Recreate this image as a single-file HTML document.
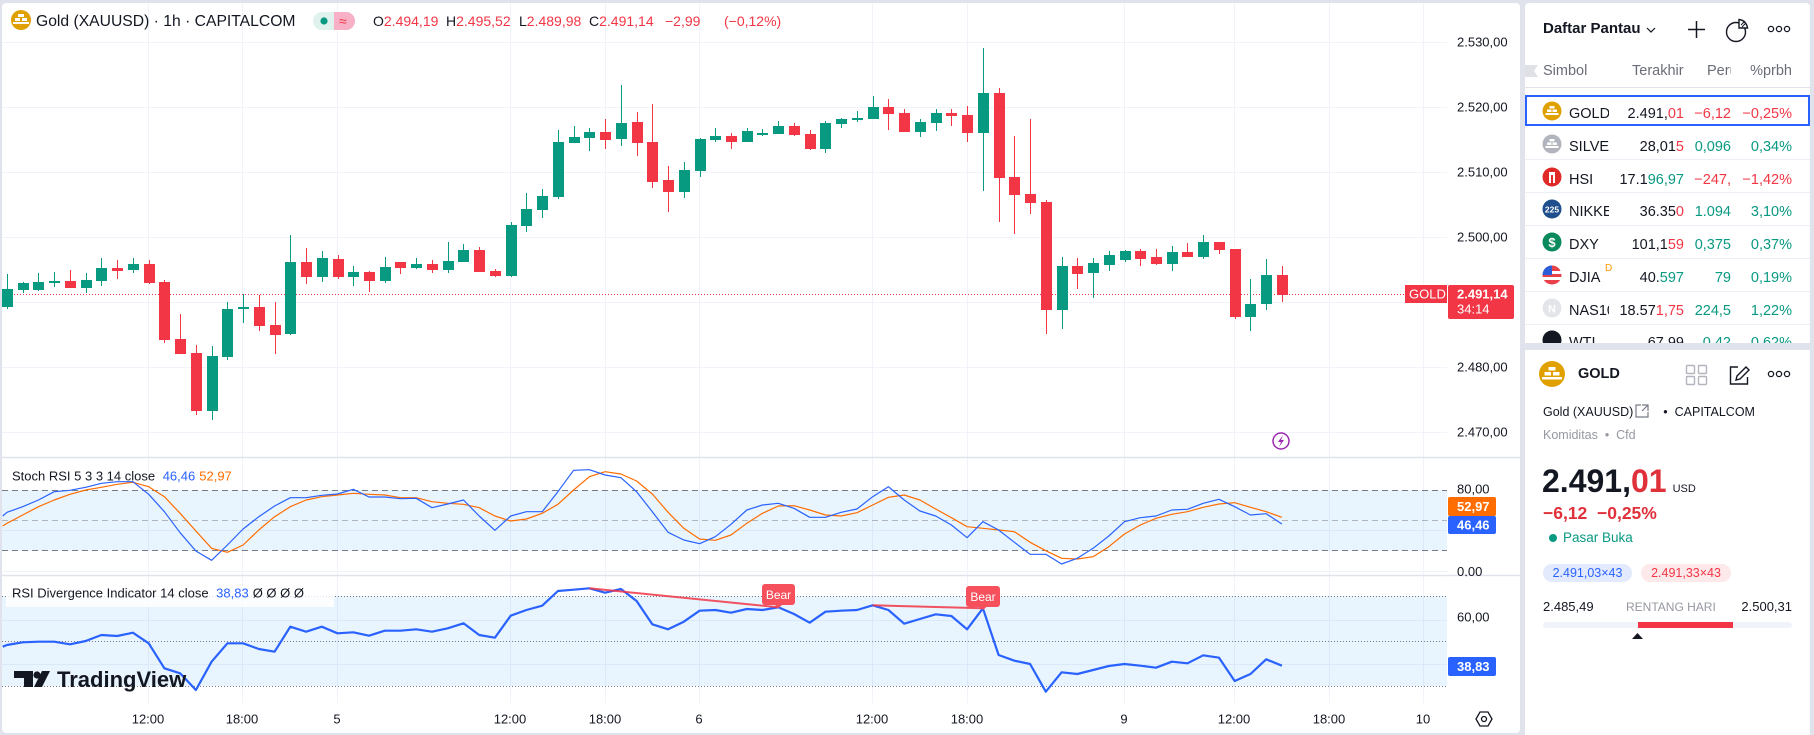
<!DOCTYPE html>
<html><head><meta charset="utf-8">
<style>
*{margin:0;padding:0;box-sizing:border-box}
body{width:1814px;height:735px;background:#e0e3eb;font-family:"Liberation Sans",sans-serif;color:#131722;position:relative;overflow:hidden}
.a{position:absolute;white-space:nowrap}
.r{position:absolute;left:0;width:285px;height:33px}
.r>span{position:absolute;top:6px;line-height:20px;font-size:14.5px;white-space:nowrap}
.nm{left:44px;width:40px;overflow:hidden}
.lp{right:126px}.ch{right:79px}.pc{right:18px}
.g{color:#089981}.rd{color:#f23645}
.sep{position:absolute;left:0;width:285px;height:1px;background:#eceff5}
</style></head><body>
<svg class="a" style="left:0;top:0" width="1520" height="735" viewBox="0 0 1520 735" font-family="Liberation Sans, sans-serif">
<rect x="2" y="3" width="1518" height="730" rx="4" fill="#fff"/>
<g stroke="#f0f3fa" stroke-width="1" fill="none">
<path d="M2 42.5H1447M2 107.5H1447M2 172.5H1447M2 237.5H1447M2 302.5H1447M2 367.5H1447M2 432.5H1447"/>
<path d="M2 530.5H1447M2 571.5H1447M2 620.5H1447M2 664.5H1447"/>
<path d="M148.5 3V703M242.5 3V703M337.5 3V703M510.5 3V703M605.5 3V703M699.5 3V703M872.5 3V703M967.5 3V703M1124.5 3V703M1234.5 3V703M1329.5 3V703M1423.5 3V703"/>
</g>
<path d="M2 457.5H1520M2 575.5H1520" stroke="#e0e3eb" stroke-width="1.5"/>
<circle cx="21" cy="20" r="10" fill="#e0a100"/>
<g fill="#fff"><rect x="18" y="14" width="6" height="3"/><rect x="15" y="18" width="5" height="3"/><rect x="22" y="18" width="5" height="3"/><rect x="13" y="22" width="16" height="2"/></g>
<text x="36" y="26" font-size="15.7" fill="#131722">Gold (XAUUSD) · 1h · CAPITALCOM</text>
<rect x="313" y="12" width="42" height="18" rx="9" fill="#dff2ee"/>
<path d="M334 12h12a9 9 0 0 1 0 18h-12z" fill="#f7b0c5"/>
<circle cx="324" cy="21" r="3.6" fill="#089981"/>
<text x="339" y="26" font-size="14" fill="#f23645">≈</text>
<g font-size="14" fill="#f23645">
<text x="373" y="26"><tspan fill="#131722">O</tspan>2.494,19</text>
<text x="446" y="26"><tspan fill="#131722">H</tspan>2.495,52</text>
<text x="519" y="26"><tspan fill="#131722">L</tspan>2.489,98</text>
<text x="589" y="26"><tspan fill="#131722">C</tspan>2.491,14</text>
<text x="665" y="26">−2,99</text>
<text x="724" y="26">(−0,12%)</text>
</g>
<path d="M2 294.5H1405" stroke="#f23645" stroke-width="1" stroke-dasharray="1 2"/>
<path fill="#089981" d="M2 289h11v18h-11zM7 274h1v35h-1zM18 283h11v7h-11zM23 282h1v11h-1zM33 282h11v8h-11zM38 273h1v18h-1zM49 281h11v2h-11zM54 272h1v15h-1zM81 280h11v8h-11zM86 273h1v20h-1zM96 268h11v13h-11zM101 258h1v28h-1zM128 264h11v6h-11zM133 258h1v15h-1zM207 356h11v55h-11zM212 346h1v74h-1zM222 309h11v48h-11zM227 302h1v58h-1zM238 307h11v2h-11zM243 294h1v29h-1zM285 262h11v72h-11zM290 235h1v100h-1zM317 258h11v19h-11zM322 251h1v31h-1zM348 272h11v5h-11zM353 266h1v20h-1zM380 267h11v14h-11zM385 257h1v26h-1zM411 264h11v4h-11zM416 258h1v11h-1zM443 261h11v9h-11zM448 242h1v31h-1zM458 250h11v12h-11zM463 244h1v18h-1zM506 225h11v51h-11zM511 222h1v55h-1zM521 209h11v17h-11zM526 193h1v39h-1zM537 196h11v14h-11zM542 189h1v29h-1zM553 142h11v55h-11zM558 130h1v69h-1zM569 137h11v6h-11zM574 126h1v17h-1zM584 132h11v6h-11zM589 128h1v23h-1zM616 123h11v16h-11zM621 85h1v61h-1zM679 170h11v22h-11zM684 162h1v36h-1zM695 139h11v32h-11zM700 138h1v39h-1zM710 136h11v4h-11zM715 128h1v14h-1zM742 131h11v11h-11zM747 128h1v14h-1zM757 133h11v2h-11zM762 129h1v7h-1zM773 126h11v8h-11zM778 121h1v13h-1zM820 123h11v26h-11zM825 121h1v32h-1zM836 119h11v5h-11zM841 118h1v10h-1zM852 118h11v2h-11zM857 111h1v11h-1zM868 107h11v12h-11zM873 96h1v23h-1zM915 122h11v10h-11zM920 119h1v18h-1zM931 113h11v10h-11zM936 109h1v22h-1zM978 93h11v40h-11zM983 48h1v143h-1zM1057 266h11v44h-11zM1062 257h1v72h-1zM1088 263h11v10h-11zM1093 258h1v40h-1zM1104 255h11v10h-11zM1109 251h1v20h-1zM1120 251h11v9h-11zM1125 250h1v12h-1zM1167 252h11v12h-11zM1172 246h1v25h-1zM1198 242h11v15h-11zM1203 235h1v24h-1zM1245 304h11v13h-11zM1250 279h1v52h-1zM1261 275h11v29h-11zM1266 259h1v51h-1z"/>
<path fill="#f23645" d="M65 281h11v7h-11zM70 270h1v18h-1zM112 268h11v3h-11zM117 260h1v19h-1zM144 264h11v19h-11zM149 260h1v24h-1zM159 282h11v58h-11zM164 280h1v63h-1zM175 339h11v15h-11zM180 314h1v40h-1zM191 353h11v58h-11zM196 345h1v70h-1zM254 307h11v19h-11zM259 295h1v36h-1zM270 325h11v10h-11zM275 302h1v52h-1zM301 262h11v15h-11zM306 248h1v36h-1zM333 259h11v18h-11zM338 255h1v24h-1zM364 272h11v9h-11zM369 271h1v21h-1zM395 262h11v6h-11zM400 262h1v12h-1zM427 264h11v6h-11zM432 260h1v13h-1zM474 250h11v22h-11zM479 247h1v25h-1zM490 271h11v5h-11zM495 269h1v8h-1zM600 132h11v8h-11zM605 119h1v30h-1zM632 122h11v21h-11zM637 112h1v44h-1zM647 142h11v40h-11zM652 104h1v84h-1zM663 180h11v12h-11zM668 166h1v46h-1zM726 136h11v6h-11zM731 133h1v16h-1zM789 126h11v9h-11zM794 123h1v13h-1zM805 134h11v15h-11zM810 130h1v20h-1zM883 107h11v7h-11zM888 99h1v31h-1zM899 113h11v19h-11zM904 109h1v23h-1zM946 113h11v3h-11zM951 109h1v17h-1zM962 115h11v18h-11zM967 106h1v36h-1zM994 93h11v85h-11zM999 88h1v134h-1zM1009 177h11v18h-11zM1014 136h1v98h-1zM1025 194h11v9h-11zM1030 119h1v95h-1zM1041 202h11v108h-11zM1046 200h1v134h-1zM1072 266h11v8h-11zM1077 258h1v31h-1zM1135 251h11v8h-11zM1140 249h1v17h-1zM1151 257h11v7h-11zM1156 249h1v16h-1zM1182 252h11v5h-11zM1187 243h1v14h-1zM1214 242h11v8h-11zM1219 242h1v12h-1zM1230 249h11v68h-11zM1235 249h1v70h-1zM1277 275h11v20h-11zM1282 266h1v36h-1z"/>
<circle cx="1281" cy="441" r="8" fill="#fff" stroke="#9c27b0" stroke-width="1.5"/>
<path d="M1283 435l-5 7h3l-2 5 5-7h-3z" fill="#9c27b0"/>
<g font-size="13" fill="#131722">
<text x="1457" y="46.5">2.530,00</text>
<text x="1457" y="111.5">2.520,00</text>
<text x="1457" y="176.5">2.510,00</text>
<text x="1457" y="241.5">2.500,00</text>
<text x="1457" y="371.5">2.480,00</text>
<text x="1457" y="436.5">2.470,00</text>
</g>
<rect x="1405" y="285" width="42" height="18" fill="#f23645"/>
<text x="1409" y="298.5" font-size="13" fill="#fff">GOLD</text>
<rect x="1448" y="285" width="66" height="34" rx="2" fill="#f23645"/>
<text x="1457" y="298.5" font-size="13" font-weight="bold" fill="#fff">2.491,14</text>
<text x="1457" y="313.5" font-size="13" fill="#fff">34:14</text>
<rect x="2" y="490" width="1445" height="61" fill="rgba(33,150,243,0.1)"/>
<path d="M2 490.5H1447M2 550.5H1447" stroke="#787b86" stroke-dasharray="6 4"/>
<path d="M2 520.5H1447" stroke="#b2b5be" stroke-dasharray="6 4"/>
<polyline fill="none" stroke="#ff6d00" stroke-width="1.2" stroke-linejoin="round" points="2.7,526 7,523.3 22.7,515 38.5,506.7 54.2,500 70,494.3 85.7,490 101.4,487.3 117.2,484.3 132.9,482.3 148.7,486.7 164.4,496.7 180.1,513.3 195.9,531 211.6,548.3 227.4,552.3 243.1,545 258.8,530 274.6,516.7 290.3,506.7 306.1,500 321.8,496.7 337.5,495 353.3,493.3 369,494.3 384.8,495 400.5,497.7 416.2,497.7 432,501.7 447.7,503.3 463.5,504.3 479.2,507.7 494.9,516 510.7,521 526.4,519 542.2,513.3 557.9,504.3 573.6,490 589.4,476.7 605.1,471.7 620.9,474 636.6,481 652.3,494 668.1,512.3 683.8,528.3 699.6,539 715.3,540.3 731,535 746.8,523.3 762.5,513.3 778.3,506 794,505.7 809.7,510 825.5,515 841.2,516 857,512.7 872.7,505 888.4,497.3 904.2,495 919.9,500 935.7,509 951.4,517.7 967.1,526.7 982.9,528.3 998.6,530 1014.4,531.7 1030.1,542.3 1045.8,550.7 1061.6,558.3 1077.3,559 1093.1,556.7 1108.8,546.7 1124.5,534 1140.3,525 1156,518.3 1171.8,514.3 1187.5,511.7 1203.2,507.3 1219,504 1234.7,502.7 1250.5,507.3 1266.2,511.7 1281.9,517.3"/>
<polyline fill="none" stroke="#2962ff" stroke-width="1.2" stroke-linejoin="round" points="2.7,516 7,512.3 22.7,506.7 38.5,500 54.2,491.7 70,490.3 85.7,487.3 101.4,483.3 117.2,481.7 132.9,481.7 148.7,494.3 164.4,511.7 180.1,532.7 195.9,551 211.6,560.3 227.4,545 243.1,529 258.8,516.7 274.6,506 290.3,497.7 306.1,497.7 321.8,495.3 337.5,494 353.3,489.3 369,497 384.8,497 400.5,498.7 416.2,498.3 432,507.7 447.7,504 463.5,500 479.2,516 494.9,530.3 510.7,516 526.4,511.7 542.2,511.7 557.9,491.7 573.6,470.3 589.4,469.7 605.1,475 620.9,477.7 636.6,491.7 652.3,511.7 668.1,532.3 683.8,540 699.6,543.7 715.3,536.7 731,524.3 746.8,510 762.5,505 778.3,503.3 794,508.3 809.7,517.3 825.5,517.3 841.2,512.3 857,509 872.7,496.7 888.4,486.7 904.2,500 919.9,511 935.7,516 951.4,525 967.1,537.7 982.9,521.7 998.6,530 1014.4,542.3 1030.1,554.3 1045.8,554.3 1061.6,564 1077.3,558.3 1093.1,548.3 1108.8,536 1124.5,521.7 1140.3,517.7 1156,516 1171.8,510 1187.5,509.3 1203.2,503.3 1219,499.3 1234.7,506.7 1250.5,515 1266.2,513.7 1281.9,524"/>
<text x="12" y="480.5" font-size="13" fill="#131722">Stoch RSI 5 3 3 14 close <tspan fill="#2962ff" dx="4">46,46</tspan><tspan fill="#ff6d00" dx="4">52,97</tspan></text>
<text x="1457" y="493.5" font-size="13" fill="#131722">80,00</text>
<text x="1457" y="576" font-size="13" fill="#131722">0,00</text>
<rect x="1447" y="576.3" width="73" height="12" fill="#fff"/>
<rect x="1448" y="497" width="48" height="19" rx="2" fill="#ff6d00"/>
<text x="1457" y="511" font-size="13" font-weight="bold" fill="#fff">52,97</text>
<rect x="1448" y="516" width="48" height="18" rx="2" fill="#2962ff"/>
<text x="1457" y="529.5" font-size="13" font-weight="bold" fill="#fff">46,46</text>
<rect x="2" y="596" width="1445" height="90" fill="rgba(33,150,243,0.1)"/>
<path d="M2 596.5H1447M2 641.5H1447M2 686.5H1447" stroke="#787b86" stroke-dasharray="1 2"/>
<rect x="6" y="586" width="328" height="21" fill="rgba(255,255,255,0.8)"/>
<polyline fill="none" stroke="#2962ff" stroke-width="2.2" stroke-linejoin="round" points="2.7,646.7 7,645 22.7,642.3 38.5,641.7 54.2,641.7 70,644.3 85.7,641 101.4,635 117.2,636 132.9,632.7 148.7,643.3 164.4,668.3 180.1,673.3 195.9,690 211.6,661.7 227.4,643.3 243.1,643.3 258.8,649 274.6,651.7 290.3,626.7 306.1,631.7 321.8,626.7 337.5,633.3 353.3,632.3 369,635.7 384.8,630.7 400.5,630.7 416.2,629.3 432,631.7 447.7,628.3 463.5,623.3 479.2,635 494.9,637.7 510.7,615.7 526.4,610 542.2,605.7 557.9,591 573.6,589.7 589.4,588.3 605.1,592.7 620.9,589 636.6,601 652.3,624.3 668.1,629.3 683.8,621.7 699.6,610.7 715.3,610 731,612.7 746.8,609 762.5,610 778.3,607.3 794,614 809.7,622.7 825.5,611.7 841.2,610.7 857,610 872.7,605.3 888.4,610 904.2,623.7 919.9,619 935.7,614.3 951.4,616 967.1,629.3 982.9,608.3 998.6,655 1014.4,660.7 1030.1,664 1045.8,691.7 1061.6,672.3 1077.3,674 1093.1,670 1108.8,666 1124.5,664 1140.3,665.7 1156,667.7 1171.8,661.7 1187.5,663.3 1203.2,655.3 1219,657.7 1234.7,681 1250.5,674 1266.2,659.3 1281.9,665.7"/>
<path d="M589.4 588.3L778.3 607.3M872.7 605.3L982.9 608.3" stroke="#f23645" stroke-width="2" opacity="0.85"/>
<rect x="762" y="584" width="33" height="21" rx="3" fill="#f5505c"/>
<path d="M775 605h7l-3.5 3z" fill="#f5505c"/>
<text x="778.5" y="599" font-size="12" fill="#fff" text-anchor="middle">Bear</text>
<rect x="966" y="586" width="34" height="21" rx="3" fill="#f5505c"/>
<path d="M979.5 607h7l-3.5 3z" fill="#f5505c"/>
<text x="983" y="601" font-size="12" fill="#fff" text-anchor="middle">Bear</text>
<text x="12" y="597.5" font-size="13" fill="#131722">RSI Divergence Indicator 14 close <tspan fill="#2962ff" dx="4">38,83</tspan><tspan dx="4">Ø Ø Ø Ø</tspan></text>
<text x="1457" y="621.5" font-size="13" fill="#131722">60,00</text>
<rect x="1448" y="657" width="48" height="19" rx="2" fill="#2962ff"/>
<text x="1457" y="671" font-size="13" font-weight="bold" fill="#fff">38,83</text>
<g fill="#131722">
<path d="M14 671h19v16h-9v-9h-10z"/>
<circle cx="37" cy="675" r="3.6"/>
<path d="M42 671h8l-8 16h-8z"/>
<text x="57" y="687" font-size="22" font-weight="bold">TradingView</text>
</g>
<g font-size="13" fill="#131722" text-anchor="middle">
<text x="148" y="723.5">12:00</text>
<text x="242" y="723.5">18:00</text>
<text x="337" y="723.5">5</text>
<text x="510" y="723.5">12:00</text>
<text x="605" y="723.5">18:00</text>
<text x="699" y="723.5">6</text>
<text x="872" y="723.5">12:00</text>
<text x="967" y="723.5">18:00</text>
<text x="1124" y="723.5">9</text>
<text x="1234" y="723.5">12:00</text>
<text x="1329" y="723.5">18:00</text>
<text x="1423" y="723.5">10</text>
</g>
<polygon points="1476,719 1480,712 1488,712 1492,719 1488,726 1480,726" fill="none" stroke="#131722" stroke-width="1.3"/>
<circle cx="1484" cy="719" r="2.5" fill="none" stroke="#131722" stroke-width="1.3"/>
</svg>

<div class="a" style="left:1525px;top:3px;width:285px;height:340px;background:#fff;overflow:hidden;border-radius:4px 4px 0 0">
  <div class="a" style="left:18px;top:17px;font-size:15px;font-weight:bold;line-height:18px">Daftar Pantau</div>
  <svg class="a" style="left:0;top:0" width="285" height="90">
    <path d="M122 25l4 4 4-4" fill="none" stroke="#131722" stroke-width="1.2"/>
    <path d="M171.5 18v17M163 26.5h17" stroke="#131722" stroke-width="1.5"/>
    <circle cx="211" cy="29" r="9.5" fill="none" stroke="#131722" stroke-width="1.4"/>
    <path d="M214 16.5a9.5 9.5 0 0 1 8.5 8.5h-8.5z" fill="#fff" stroke="#131722" stroke-width="1.4"/>
    <path d="M216 22l4-4M217 24l4-4" stroke="#131722" stroke-width="1"/>
    <circle cx="246" cy="26" r="2.6" fill="none" stroke="#131722" stroke-width="1.3"/>
    <circle cx="254" cy="26" r="2.6" fill="none" stroke="#131722" stroke-width="1.3"/>
    <circle cx="262" cy="26" r="2.6" fill="none" stroke="#131722" stroke-width="1.3"/>
    <path d="M0 62h13l-4 6 4 6h-13z" fill="#dfe1e6"/>
  </svg>
  <div class="a" style="left:18px;top:58px;font-size:14.5px;line-height:20px;color:#6a6d78">Simbol</div>
  <div class="a" style="left:107px;top:58px;width:53px;overflow:hidden;font-size:14.5px;line-height:20px;color:#6a6d78">Terakhir</div>
  <div class="a" style="left:182px;top:58px;width:24px;overflow:hidden;font-size:14.5px;line-height:20px;color:#6a6d78">Perubahan</div>
  <div class="a" style="right:18px;top:58px;font-size:14.5px;line-height:20px;color:#6a6d78">%prbh</div>
  <div class="a" style="left:0;top:84px;width:285px;height:1px;background:#e0e3eb"></div>
  <div class="a" style="left:0;top:92px;width:285px;height:31px;border:2px solid #2962ff"></div>
  <div class="sep" style="top:156px"></div><div class="sep" style="top:189px"></div><div class="sep" style="top:222px"></div><div class="sep" style="top:255px"></div><div class="sep" style="top:288px"></div><div class="sep" style="top:321px"></div>
  <svg class="a" style="left:0;top:0" width="285" height="345">
    <circle cx="27" cy="108" r="9.5" fill="#e0a100"/>
    <g fill="#fff"><rect x="24.5" y="103" width="5" height="2.5"/><rect x="22" y="106.5" width="4.5" height="2.5"/><rect x="27.5" y="106.5" width="4.5" height="2.5"/><rect x="20.5" y="110" width="13" height="2"/></g>
    <circle cx="27" cy="141" r="9.5" fill="#b2b5be"/>
    <g fill="#fff"><rect x="24.5" y="136" width="5" height="2.5"/><rect x="22" y="139.5" width="4.5" height="2.5"/><rect x="27.5" y="139.5" width="4.5" height="2.5"/><rect x="20.5" y="143" width="13" height="2"/></g>
    <circle cx="27" cy="174" r="9.5" fill="#e02a2a"/>
    <path d="M24 169h6v11h-2v-8h-2v8h-2z" fill="#fff"/>
    <circle cx="27" cy="206" r="9.5" fill="#1f4e8c"/>
    <text x="27" y="209.5" font-size="8.5" fill="#fff" text-anchor="middle" font-family="Liberation Sans" font-weight="bold">225</text>
    <circle cx="27" cy="239" r="9.5" fill="#0b8a5e"/>
    <text x="27" y="244" font-size="13" fill="#fff" text-anchor="middle" font-family="Liberation Sans" font-weight="bold">$</text>
    <circle cx="27" cy="272" r="9.5" fill="#e8414a"/>
    <path d="M17.5 268h19v3h-19zM17.5 274h19v3h-19z" fill="#fff"/>
    <path d="M27 262.5a9.5 9.5 0 0 0 -9.5 9.5h9.5z" fill="#2b5fd9"/>
    <circle cx="27" cy="305" r="9.5" fill="#e3e5ea"/>
    <text x="27" y="309.5" font-size="11" fill="#fff" text-anchor="middle" font-family="Liberation Sans" font-weight="bold">N</text>
    <circle cx="27" cy="337" r="9.5" fill="#131722"/>
    <text x="80" y="268" font-size="10" fill="#ff9800" font-family="Liberation Sans">D</text>
  </svg>
  <div class="r" style="top:95px"><span class="nm">GOLD</span><span class="lp">2.491,<b class="rd" style="font-weight:normal">01</b></span><span class="ch rd">−6,12</span><span class="pc rd">−0,25%</span></div>
  <div class="r" style="top:128px"><span class="nm">SILVER</span><span class="lp">28,01<b class="rd" style="font-weight:normal">5</b></span><span class="ch g">0,096</span><span class="pc g">0,34%</span></div>
  <div class="r" style="top:161px"><span class="nm">HSI</span><span class="lp">17.1<b class="g" style="font-weight:normal">96,97</b></span><span class="ch rd">−247,</span><span class="pc rd">−1,42%</span></div>
  <div class="r" style="top:193px"><span class="nm">NIKKEI</span><span class="lp">36.35<b class="rd" style="font-weight:normal">0</b></span><span class="ch g">1.094</span><span class="pc g">3,10%</span></div>
  <div class="r" style="top:226px"><span class="nm">DXY</span><span class="lp">101,1<b class="rd" style="font-weight:normal">59</b></span><span class="ch g">0,375</span><span class="pc g">0,37%</span></div>
  <div class="r" style="top:259px"><span class="nm">DJIA</span><span class="lp">40.<b class="g" style="font-weight:normal">597</b></span><span class="ch g">79</span><span class="pc g">0,19%</span></div>
  <div class="r" style="top:292px"><span class="nm">NAS100</span><span class="lp">18.57<b class="rd" style="font-weight:normal">1,75</b></span><span class="ch g">224,5</span><span class="pc g">1,22%</span></div>
  <div class="r" style="top:324px"><span class="nm">WTI</span><span class="lp">67,99</span><span class="ch g">0,42</span><span class="pc g">0,62%</span></div>
</div>

<div class="a" style="left:1525px;top:350px;width:285px;height:385px;background:#fff">
  <svg class="a" style="left:0;top:0" width="285" height="300">
    <circle cx="27" cy="24" r="13" fill="#e0a100"/>
    <g fill="#fff"><rect x="23.5" y="17" width="7" height="3.5"/><rect x="19.5" y="22" width="6.5" height="3.5"/><rect x="28" y="22" width="6.5" height="3.5"/><rect x="17" y="27" width="20" height="2.5"/></g>
    <g fill="none" stroke="#b2b5be" stroke-width="1.4"><rect x="161.5" y="15.5" width="8" height="8" rx="1"/><rect x="173.5" y="15.5" width="8" height="8" rx="1"/><rect x="161.5" y="26.5" width="8" height="8" rx="1"/><rect x="173.5" y="26.5" width="8" height="8" rx="1"/></g>
    <path d="M213 17h-7.5v17h17v-7" fill="none" stroke="#131722" stroke-width="1.4"/>
    <path d="M211 30l1-4 9-9 3 3-9 9z" fill="none" stroke="#131722" stroke-width="1.4"/>
    <circle cx="246" cy="24" r="2.6" fill="none" stroke="#131722" stroke-width="1.3"/>
    <circle cx="254" cy="24" r="2.6" fill="none" stroke="#131722" stroke-width="1.3"/>
    <circle cx="262" cy="24" r="2.6" fill="none" stroke="#131722" stroke-width="1.3"/>
    <path d="M116 55h-5v12h12v-5M117 55h6v6M123 55l-6 6" fill="none" stroke="#787b86" stroke-width="1.2"/>
    <circle cx="28" cy="188" r="4" fill="#089981"/>
    <rect x="18" y="272" width="249" height="6" rx="3" fill="#f0f3fa"/>
    <rect x="113" y="272" width="95" height="6" fill="#f23645"/>
    <path d="M107 289l5.5-6 5.5 6z" fill="#131722"/>
  </svg>
  <div class="a" style="left:53px;top:15px;font-size:14.5px;font-weight:bold;line-height:18px">GOLD</div>
  <div class="a" style="left:18px;top:53px;font-size:12.5px;line-height:18px">Gold (XAUUSD)<span style="display:inline-block;width:30px"></span>•&nbsp; CAPITALCOM</div>
  <div class="a" style="left:18px;top:76px;font-size:12.5px;line-height:18px;color:#9598a1">Komiditas&nbsp; •&nbsp; Cfd</div>
  <div class="a" style="left:17px;top:113px;font-size:32px;font-weight:bold;line-height:36px">2.491,<span style="color:#e0303a">01</span><span style="font-size:11px;font-weight:normal;margin-left:6px">USD</span></div>
  <div class="a" style="left:18px;top:152px;font-size:17.5px;font-weight:bold;line-height:22px;color:#e0303a">−6,12&nbsp; −0,25%</div>
  <div class="a" style="left:38px;top:179px;font-size:13.5px;line-height:18px;color:#089981">Pasar Buka</div>
  <div class="a" style="left:18px;top:214px;width:89px;height:18px;border-radius:9px;background:#e3eafd;color:#2962ff;font-size:12.5px;line-height:18px;text-align:center">2.491,03×43</div>
  <div class="a" style="left:116px;top:214px;width:90px;height:18px;border-radius:9px;background:#fde8ea;color:#f23645;font-size:12.5px;line-height:18px;text-align:center">2.491,33×43</div>
  <div class="a" style="left:18px;top:248px;font-size:13px;line-height:18px">2.485,49</div>
  <div class="a" style="left:101px;top:248px;font-size:12px;line-height:18px;color:#9598a1">RENTANG HARI</div>
  <div class="a" style="right:18px;top:248px;font-size:13px;line-height:18px">2.500,31</div>
</div>
</body></html>
